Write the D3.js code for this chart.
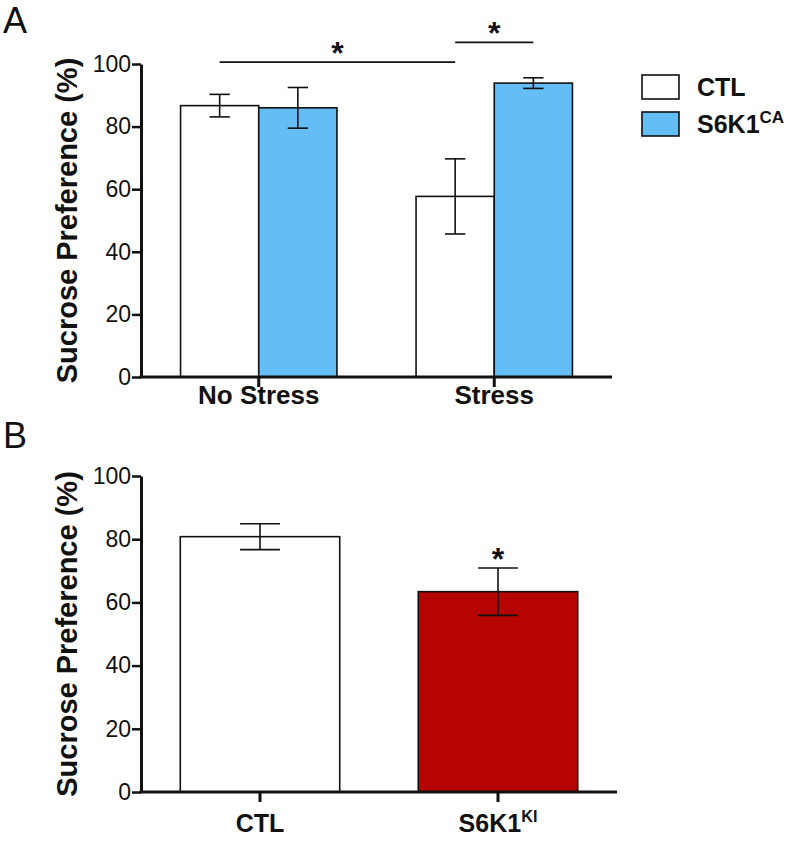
<!DOCTYPE html>
<html>
<head>
<meta charset="utf-8">
<script src="https://cdn.jsdelivr.net/npm/d3@7"></script>
<style>
  html, body { margin: 0; padding: 0; background: #fff; }
  svg { display: block; }
  text { font-family: "Liberation Sans", Arial, Helvetica, sans-serif; fill: #111; }
</style>
</head>
<body>
<svg id="chart" width="796" height="841"></svg>
<script>
// ---------- Data ----------
const yTicks = [0, 20, 40, 60, 80, 100];
const yLabel = "Sucrose Preference (%)";

// Panel A
const groupsA = ["No Stress", "Stress"];
const seriesA = ["CTL", "S6K1CA"];
const meanCTL_A = [86.7, 57.7];
const errCTL_A = [3.6, 12.0];
const meanS6K1CA_A = [86.0, 93.9];
const errS6K1CA_A = [6.5, 1.7];
const sigA = [
  { from: ["No Stress", "CTL"], to: ["Stress", "CTL"], level: 100.6 },
  { from: ["Stress", "CTL"], to: ["Stress", "S6K1CA"], level: 106.9 }
];

// Panel B
const categoriesB = ["CTL", "S6K1KI"];
const meansB = [80.8, 63.4];
const errsB = [4.1, 7.5];
const sigB = ["S6K1KI"];

const colors = { CTL: "#ffffff", S6K1CA: "#64bdf4", S6K1KI: "#b60500" };

// ---------- Drawing ----------
const svg = d3.select("#chart");
const font = '"Liberation Sans", Arial, Helvetica, sans-serif';

function drawYAxis(g, y, left) {
  const ax = d3.axisLeft(y).tickValues(yTicks).tickSize(9).tickSizeOuter(0).tickPadding(1);
  const a = g.append("g").attr("transform", `translate(${left},0)`).call(ax);
  a.select(".domain").attr("stroke", "#111").attr("stroke-width", 3);
  a.selectAll(".tick line").attr("stroke", "#111").attr("stroke-width", 2.5);
  a.selectAll(".tick text").attr("font-size", 23).attr("font-family", font).attr("fill", "#111");
}

function drawXAxis(g, x, y, left, right, labelSize, labelDy, superscripts) {
  const y0 = y(0);
  g.append("line").attr("x1", left - 1.5).attr("x2", right).attr("y1", y0).attr("y2", y0)
    .attr("stroke", "#111").attr("stroke-width", 3);
  const ax = d3.axisBottom(x).tickSize(10).tickSizeOuter(0).tickFormat("");
  const a = g.append("g").attr("transform", `translate(0,${y0})`).call(ax);
  a.select(".domain").remove();
  a.selectAll(".tick line").attr("stroke", "#111").attr("stroke-width", 3);
  x.domain().forEach(d => {
    const t = g.append("text").attr("x", x(d) + x.bandwidth() / 2).attr("y", y0 + labelDy)
      .attr("text-anchor", "middle").attr("font-size", labelSize).attr("font-weight", "bold");
    const sup = superscripts[d];
    if (sup) {
      t.append("tspan").text(sup[0]);
      t.append("tspan").text(sup[1]).attr("font-size", labelSize * 0.65).attr("dy", -10);
    } else {
      t.text(d);
    }
  });
}

function yTitle(g, cx, cy) {
  g.append("text").attr("transform", `translate(${cx},${cy}) rotate(-90)`)
    .attr("text-anchor", "middle").attr("font-size", 29).attr("font-weight", "bold").text(yLabel);
}

function errorBar(g, cx, top, bottom, cap) {
  g.append("line").attr("x1", cx).attr("x2", cx).attr("y1", top).attr("y2", bottom)
    .attr("stroke", "#111").attr("stroke-width", 1.6);
  [top, bottom].forEach(v => g.append("line").attr("x1", cx - cap / 2).attr("x2", cx + cap / 2)
    .attr("y1", v).attr("y2", v).attr("stroke", "#111").attr("stroke-width", 1.6));
}

function star(g, cx, baseline) {
  g.append("text").attr("x", cx).attr("y", baseline).attr("text-anchor", "middle")
    .attr("font-size", 32).attr("font-weight", "bold").text("*");
}

// ----- Panel A -----
const gA = svg.append("g");
gA.append("text").attr("x", 3).attr("y", 33).attr("font-size", 36).text("A");

const yA = d3.scaleLinear().domain([0, 100]).range([377, 64]);
const x0A = d3.scaleBand().domain(groupsA).range([141, 612]).paddingInner(0.336).paddingOuter(0.168);
const x1A = d3.scaleBand().domain(seriesA).range([0, x0A.bandwidth()]).padding(0);

const tableA = groupsA.map((gname, i) => ({
  group: gname,
  bars: [
    { s: "CTL", v: meanCTL_A[i], e: errCTL_A[i] },
    { s: "S6K1CA", v: meanS6K1CA_A[i], e: errS6K1CA_A[i] }
  ]
}));

tableA.forEach(row => {
  row.bars.forEach(b => {
    const bx = x0A(row.group) + x1A(b.s);
    gA.append("rect").attr("x", bx).attr("y", yA(b.v)).attr("width", x1A.bandwidth())
      .attr("height", yA(0) - yA(b.v)).attr("fill", colors[b.s])
      .attr("stroke", "#111").attr("stroke-width", 1.6);
  });
});
tableA.forEach(row => {
  row.bars.forEach(b => {
    const cx = x0A(row.group) + x1A(b.s) + x1A.bandwidth() / 2;
    errorBar(gA, cx, yA(b.v + b.e), yA(b.v - b.e), x1A.bandwidth() * 0.26);
  });
});

drawYAxis(gA, yA, 141);
drawXAxis(gA, x0A, yA, 141, 612, 26, 27, {});
yTitle(gA, 77, (yA(0) + yA(100)) / 2);

sigA.forEach(c => {
  const xa = x0A(c.from[0]) + x1A(c.from[1]) + x1A.bandwidth() / 2;
  const xb = x0A(c.to[0]) + x1A(c.to[1]) + x1A.bandwidth() / 2;
  const ly = yA(c.level);
  gA.append("line").attr("x1", xa).attr("x2", xb).attr("y1", ly).attr("y2", ly)
    .attr("stroke", "#111").attr("stroke-width", 1.6);
  star(gA, (xa + xb) / 2, ly + 2);
});

// Legend A
const legA = gA.append("g");
seriesA.forEach((s, i) => {
  const yy = 75 + i * 37;
  legA.append("rect").attr("x", 642).attr("y", yy).attr("width", 37).attr("height", 24)
    .attr("fill", colors[s]).attr("stroke", "#111").attr("stroke-width", 1.6);
  const t = legA.append("text").attr("x", 697).attr("y", yy + 21).attr("font-size", 25).attr("font-weight", "bold");
  if (s === "S6K1CA") {
    t.append("tspan").text("S6K1");
    t.append("tspan").text("CA").attr("font-size", 17).attr("dy", -10);
  } else {
    t.text(s);
  }
});

// ----- Panel B -----
const gB = svg.append("g");
gB.append("text").attr("x", 3).attr("y", 448).attr("font-size", 36).text("B");

const yB = d3.scaleLinear().domain([0, 100]).range([792, 476]);
const xB = d3.scaleBand().domain(categoriesB).range([141, 617]).paddingInner(0.33).paddingOuter(0.165);

categoriesB.forEach((c, i) => {
  gB.append("rect").attr("x", xB(c)).attr("y", yB(meansB[i])).attr("width", xB.bandwidth())
    .attr("height", yB(0) - yB(meansB[i])).attr("fill", colors[c])
    .attr("stroke", "#111").attr("stroke-width", 1.6);
});
categoriesB.forEach((c, i) => {
  const cx = xB(c) + xB.bandwidth() / 2;
  errorBar(gB, cx, yB(meansB[i] + errsB[i]), yB(meansB[i] - errsB[i]), xB.bandwidth() * 0.25);
  if (sigB.includes(c)) star(gB, cx, yB(meansB[i] + errsB[i]) + 2);
});

drawYAxis(gB, yB, 141);
drawXAxis(gB, xB, yB, 141, 617, 25, 40, { S6K1KI: ["S6K1", "KI"] });
yTitle(gB, 77, (yB(0) + yB(100)) / 2);
</script>
</body>
</html>
